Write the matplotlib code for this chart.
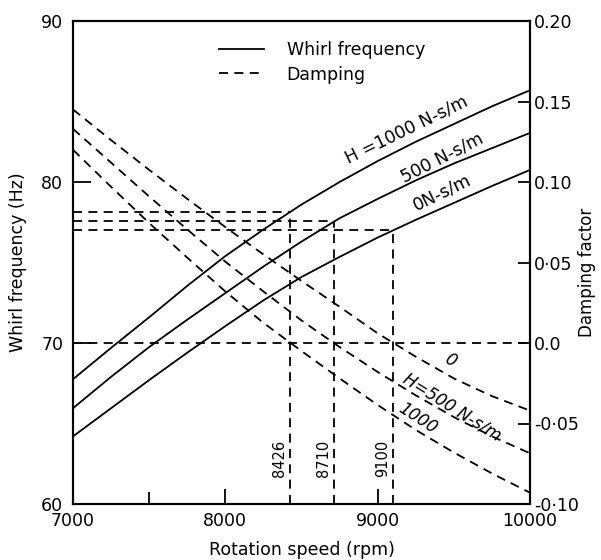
import matplotlib
matplotlib.use("Agg")
import matplotlib.pyplot as plt
from matplotlib.lines import Line2D

plt.rcParams['font.family'] = ['DejaVu Sans']

# Rotation speed grid (rpm)
speed = [7000, 7250, 7500, 7750, 8000, 8250, 8500, 8750, 9000, 9250, 9500, 9750, 10000]

# Whirl frequency (Hz) for bearing damping H = 1000, 500, 0 N-s/m
whirl_h1000 = [67.75, 69.7, 71.6, 73.55, 75.4, 77.05, 78.6, 80.0, 81.3, 82.5, 83.6, 84.7, 85.7]
whirl_h500 = [65.95, 67.9, 69.75, 71.45, 73.1, 74.75, 76.3, 77.75, 78.95, 80.1, 81.15, 82.1, 83.05]
whirl_h0 = [64.2, 65.95, 67.7, 69.4, 71.05, 72.65, 74.1, 75.35, 76.55, 77.65, 78.7, 79.75, 80.75]

# Damping factor for the same three cases
damp_h0 = [0.145, 0.126, 0.1075, 0.0895, 0.072, 0.055, 0.0385, 0.0225, 0.006, -0.0085, -0.022, -0.033, -0.042]
damp_h500 = [0.133, 0.112, 0.091, 0.0705, 0.0505, 0.032, 0.014, -0.0025, -0.018, -0.0325, -0.046, -0.058, -0.0685]
damp_h1000 = [0.120, 0.097, 0.0745, 0.053, 0.032, 0.0125, -0.005, -0.022, -0.0385, -0.054, -0.068, -0.081, -0.093]

# Stability threshold speeds (zero damping) and whirl frequencies there
threshold_speed = [8426, 8710, 9100]
threshold_freq = [78.15, 77.55, 77.0]
threshold_text = ["8426", "8710", "9100"]

right_ticks = [-0.10, -0.05, 0.0, 0.05, 0.10, 0.15, 0.20]
right_ticklabels = ["-0·10", "-0·05", "0.0", "0·05", "0.10", "0.15", "0.20"]

fig = plt.figure(figsize=(6.01, 5.60), dpi=100)
ax = fig.add_axes([0.1215, 0.1, 0.7604, 0.8625])
ax2 = ax.twinx()

LW = 1.3
DASH = (5, 3.5)
col = "black"
FS = 12.5

# Whirl frequency curves
for y in (whirl_h1000, whirl_h500, whirl_h0):
    ax.plot(speed, y, color=col, lw=LW, solid_capstyle="butt")

# Damping curves
for d in (damp_h0, damp_h500, damp_h1000):
    ax2.plot(speed, d, color=col, lw=LW, dashes=DASH)

# Zero-damping reference line
ax2.plot([speed[0], speed[-1]], [0.0, 0.0], color=col, lw=LW, dashes=DASH)

# Threshold construction lines
for s, f, t in zip(threshold_speed, threshold_freq, threshold_text):
    ax.plot([speed[0], s], [f, f], color=col, lw=LW, dashes=DASH)
    ax.plot([s, s], [60, f], color=col, lw=LW, dashes=DASH)
    ax.annotate(t, xy=(s, 62.85), xytext=(-2, 0), textcoords="offset points",
                rotation=90, ha="right", va="center", fontsize=10.5)

ax.set_xlim(7000, 10000)
ax.set_ylim(60, 90)
ax2.set_ylim(-0.10, 0.20)

ax.set_xticks([7000, 8000, 9000, 10000])
ax.set_xticks([7500], minor=True)
ax.set_yticks([60, 70, 80, 90])
ax2.set_yticks(right_ticks)
ax2.set_yticklabels(right_ticklabels)

ax.tick_params(axis="x", which="major", direction="in", length=11, width=1.3,
               labelsize=FS, pad=6)
ax.tick_params(axis="x", which="minor", direction="in", length=9, width=1.3)
ax.tick_params(axis="y", direction="in", length=13, width=1.3, labelsize=FS, pad=7)
ax2.tick_params(axis="y", direction="in", length=9, width=1.3, labelsize=FS, pad=3)

for a in (ax, ax2):
    for sp in a.spines.values():
        sp.set_linewidth(1.5)

ax.set_xlabel("Rotation speed (rpm)", fontsize=FS, labelpad=8)
ax.set_ylabel("Whirl frequency (Hz)", fontsize=FS, labelpad=10)
ax2.set_ylabel("Damping factor", fontsize=12, va="center")
ax2.yaxis.set_label_coords(1.125, 0.48)

# Curve labels
ax.text(9191, 83.23, "H =1000 N-s/m", rotation=26, ha="center", va="center",
        rotation_mode="anchor", fontsize=12.5)
ax.text(9421, 81.53, "500 N-s/m", rotation=27, ha="center", va="center",
        rotation_mode="anchor", fontsize=12.5)
ax.text(9425, 79.36, "0N-s/m", rotation=26, ha="center", va="center",
        rotation_mode="anchor", fontsize=12.5)

ax2.text(9475, -0.011, "0", rotation=-30, ha="center", va="center",
         rotation_mode="anchor", fontsize=12, style="italic")
ax2.text(9486, -0.040, "H=500 N-s/m", rotation=-32, ha="center", va="center",
         rotation_mode="anchor", fontsize=12, style="italic")
ax2.text(9262, -0.047, "1000", rotation=-33, ha="center", va="center",
         rotation_mode="anchor", fontsize=12, style="italic")

# Legend
handles = [Line2D([], [], color=col, lw=LW),
           Line2D([], [], color=col, lw=LW, dashes=DASH)]
ax.legend(handles, ["Whirl frequency", "Damping"], loc="upper left",
          bbox_to_anchor=(0.285, 0.99), frameon=False, fontsize=FS,
          handlelength=2.6, handletextpad=1.3, labelspacing=0.35)

fig.savefig("out.png", dpi=100)
